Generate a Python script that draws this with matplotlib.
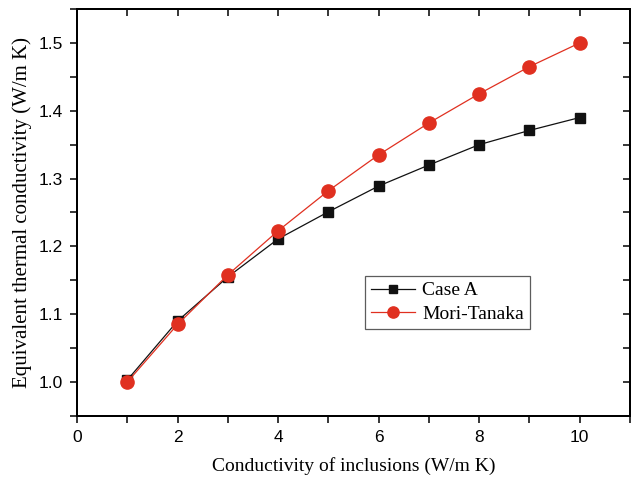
import numpy as np
import matplotlib
matplotlib.use("Agg")
import matplotlib.pyplot as plt
from matplotlib.ticker import MultipleLocator, FormatStrFormatter

x = [1, 2, 3, 4, 5, 6, 7, 8, 9, 10]
case_a = [1.003, 1.090, 1.155, 1.211, 1.251, 1.289, 1.320, 1.350, 1.371, 1.390]
mori_tanaka = [1.000, 1.085, 1.158, 1.223, 1.282, 1.335, 1.382, 1.425, 1.465, 1.500]

fig = plt.figure(figsize=(6.32, 4.82), dpi=100)
ax = fig.add_axes([77/632, 66/482, 553/632, 407/482])

ax.plot(x, case_a, color='#111111', lw=0.9, marker='s', ms=7, label='Case A')
ax.plot(x, mori_tanaka, color='#e03020', lw=0.9, marker='o', ms=9.5, label='Mori-Tanaka')

ax.set_xlim(0, 11)
ax.set_ylim(0.95, 1.55)
ax.xaxis.set_minor_locator(MultipleLocator(1))
ax.yaxis.set_minor_locator(MultipleLocator(0.05))
ax.set_xticks([0, 2, 4, 6, 8, 10])
ax.set_yticks([1.0, 1.1, 1.2, 1.3, 1.4, 1.5])
ax.yaxis.set_major_formatter(FormatStrFormatter('%.1f'))

for s in ax.spines.values():
    s.set_linewidth(1.3)
ax.tick_params(which='both', direction='out', length=5, width=1.1, labelsize=12.5, pad=5)
for lab in ax.get_xticklabels() + ax.get_yticklabels():
    lab.set_family('Liberation Sans')

# inward ticks on top and right
axt = ax.twiny()
axt.set_xlim(ax.get_xlim())
axt.xaxis.set_major_locator(MultipleLocator(1))
axt.tick_params(direction='in', length=5, width=1.1, labeltop=False)
axr = ax.twinx()
axr.set_ylim(ax.get_ylim())
axr.yaxis.set_major_locator(MultipleLocator(0.05))
axr.tick_params(direction='in', length=5, width=1.1, labelright=False)
for a in (axt, axr):
    for s in a.spines.values():
        s.set_linewidth(1.3)

ax.set_xlabel('Conductivity of inclusions (W/m K)', family='Liberation Serif', fontsize=14, labelpad=9)
ax.set_ylabel('Equivalent thermal conductivity (W/m K)', family='Liberation Serif', fontsize=15, labelpad=5)

leg = axr.legend(*ax.get_legend_handles_labels(), loc='upper left',
                 bbox_to_anchor=(288/553, (416-276)/407), frameon=True, fancybox=False,
                 edgecolor='#333333', prop={'family': 'Liberation Serif', 'size': 14},
                 handlelength=2.25, borderpad=0.3, labelspacing=0.3, handletextpad=0.4,
                 borderaxespad=0, markerscale=0.85)
leg.get_frame().set_linewidth(0.9)

fig.savefig('out.png', dpi=100)
